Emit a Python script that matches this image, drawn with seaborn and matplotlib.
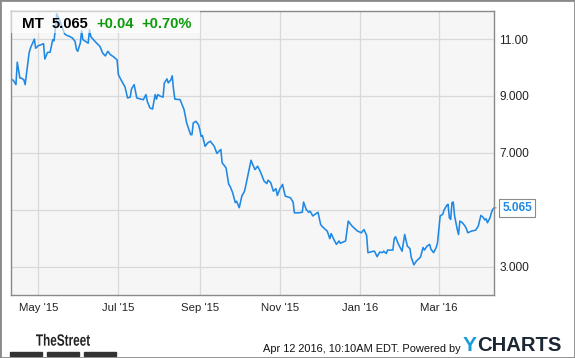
import matplotlib
matplotlib.use("Agg")
import matplotlib.pyplot as plt
import matplotlib.dates as mdates
from matplotlib.patches import Rectangle, PathPatch
from matplotlib.textpath import TextPath
from matplotlib.font_manager import FontProperties
from matplotlib.transforms import Affine2D
import pandas as pd
import seaborn as sns

# MT daily close (Apr 2015 - Apr 2016)
dates = [
    "2015-04-10", "2015-04-12", "2015-04-14", "2015-04-15", "2015-04-17", "2015-04-18", "2015-04-20",
    "2015-04-21", "2015-04-24", "2015-04-25", "2015-04-28", "2015-04-29", "2015-05-01", "2015-05-03",
    "2015-05-05", "2015-05-06", "2015-05-08", "2015-05-10", "2015-05-12", "2015-05-13", "2015-05-14",
    "2015-05-15", "2015-05-17", "2015-05-19", "2015-05-21", "2015-05-22", "2015-05-25", "2015-05-27",
    "2015-05-29", "2015-05-30", "2015-05-31", "2015-06-02", "2015-06-03", "2015-06-04", "2015-06-06",
    "2015-06-08", "2015-06-09", "2015-06-10", "2015-06-12", "2015-06-14", "2015-06-17", "2015-06-19",
    "2015-06-21", "2015-06-23", "2015-06-25", "2015-06-27", "2015-06-30", "2015-07-01", "2015-07-03",
    "2015-07-06", "2015-07-08", "2015-07-10", "2015-07-11", "2015-07-13", "2015-07-15", "2015-07-18",
    "2015-07-20", "2015-07-22", "2015-07-23", "2015-07-25", "2015-07-27", "2015-07-29", "2015-07-30",
    "2015-07-31", "2015-08-02", "2015-08-04", "2015-08-05", "2015-08-07", "2015-08-08", "2015-08-10",
    "2015-08-11", "2015-08-12", "2015-08-13", "2015-08-17", "2015-08-18", "2015-08-20", "2015-08-22",
    "2015-08-25", "2015-08-26", "2015-08-27", "2015-08-29", "2015-08-31", "2015-09-01", "2015-09-02",
    "2015-09-03", "2015-09-05", "2015-09-07", "2015-09-09", "2015-09-12", "2015-09-14", "2015-09-17",
    "2015-09-18", "2015-09-21", "2015-09-23", "2015-09-24", "2015-09-26", "2015-09-28", "2015-09-29",
    "2015-10-01", "2015-10-03", "2015-10-05", "2015-10-06", "2015-10-08", "2015-10-10", "2015-10-11",
    "2015-10-13", "2015-10-15", "2015-10-17", "2015-10-20", "2015-10-22", "2015-10-23", "2015-10-25",
    "2015-10-27", "2015-10-29", "2015-10-30", "2015-11-01", "2015-11-03", "2015-11-05", "2015-11-09",
    "2015-11-11", "2015-11-12", "2015-11-15", "2015-11-18", "2015-11-19", "2015-11-21", "2015-11-23",
    "2015-11-24", "2015-11-26", "2015-11-30", "2015-12-02", "2015-12-03", "2015-12-05", "2015-12-07",
    "2015-12-09", "2015-12-10", "2015-12-12", "2015-12-14", "2015-12-16", "2015-12-17", "2015-12-21",
    "2015-12-23", "2015-12-26", "2015-12-30", "2016-01-02", "2016-01-04", "2016-01-06", "2016-01-07",
    "2016-01-09", "2016-01-11", "2016-01-12", "2016-01-14", "2016-01-16", "2016-01-18", "2016-01-19",
    "2016-01-21", "2016-01-22", "2016-01-26", "2016-01-27", "2016-01-28", "2016-01-30", "2016-01-31",
    "2016-02-02", "2016-02-04", "2016-02-06", "2016-02-08", "2016-02-09", "2016-02-11", "2016-02-13",
    "2016-02-16", "2016-02-18", "2016-02-19", "2016-02-21", "2016-02-23", "2016-02-24", "2016-02-26",
    "2016-02-28", "2016-02-29", "2016-03-02", "2016-03-04", "2016-03-05", "2016-03-07", "2016-03-08",
    "2016-03-09", "2016-03-10", "2016-03-11", "2016-03-12", "2016-03-13", "2016-03-15", "2016-03-16",
    "2016-03-17", "2016-03-19", "2016-03-21", "2016-03-22", "2016-03-23", "2016-03-26", "2016-03-28",
    "2016-03-29", "2016-03-31", "2016-04-02", "2016-04-04", "2016-04-05", "2016-04-06", "2016-04-07",
    "2016-04-09", "2016-04-10", "2016-04-11", "2016-04-12",
]
prices = [
    9.60, 9.55, 9.40, 10.19, 9.63, 9.63, 9.57,
    9.40, 10.51, 10.68, 11.00, 10.68, 10.77, 10.80,
    10.84, 10.30, 10.53, 10.54, 10.98, 10.94, 11.35,
    11.89, 11.70, 11.44, 11.19, 11.15, 11.09, 11.04,
    10.92, 10.65, 10.57, 10.86, 11.30, 10.98, 10.92,
    10.86, 11.33, 11.09, 10.98, 10.88, 10.74, 10.51,
    10.41, 10.57, 10.45, 10.39, 10.27, 9.75, 9.57,
    9.32, 8.93, 8.96, 9.25, 9.40, 8.93, 8.89,
    8.87, 9.05, 8.81, 8.58, 8.54, 9.05, 8.89,
    9.05, 8.99, 8.96, 9.46, 9.60, 9.46, 9.57,
    9.71, 9.22, 8.89, 8.87, 8.75, 8.52, 8.05,
    7.64, 7.64, 8.05, 8.11, 7.99, 7.82, 7.58,
    7.61, 7.23, 7.35, 7.41, 7.23, 6.98, 7.12,
    6.65, 6.47, 5.89, 5.83, 5.60, 5.25, 5.30,
    5.07, 5.48, 5.65, 5.85, 6.30, 6.74, 6.62,
    6.41, 6.53, 6.35, 6.00, 5.92, 6.04, 5.95,
    5.65, 5.74, 5.50, 5.74, 5.89, 5.48, 5.42,
    5.27, 4.89, 4.89, 4.91, 5.27, 5.01, 4.91,
    4.95, 4.78, 4.91, 4.48, 4.42, 4.33, 4.25,
    3.98, 4.16, 3.96, 3.78, 3.90, 3.82, 3.90,
    4.60, 4.42, 4.25, 4.19, 4.30, 4.10, 3.49,
    3.51, 3.54, 3.54, 3.35, 3.51, 3.49, 3.54,
    3.46, 3.58, 3.58, 3.98, 4.05, 3.81, 3.72,
    3.54, 4.13, 3.72, 3.63, 3.32, 3.06, 3.20,
    3.33, 3.67, 3.58, 3.72, 3.78, 3.61, 3.49,
    3.67, 3.84, 4.78, 4.84, 4.99, 5.15, 5.19,
    4.72, 4.66, 5.25, 5.27, 4.78, 4.31, 4.13,
    4.60, 4.54, 4.42, 4.33, 4.19, 4.25, 4.27,
    4.28, 4.42, 4.80, 4.72, 4.64, 4.68, 4.54,
    4.72, 4.89, 5.01, 5.065,
]

ticker = "MT"
last_price = "5.065"
change = "+0.04"
change_pct = "+0.70%"
y_ticks = [3, 5, 7, 9, 11]
y_tick_labels = ["3.000", "", "7.000", "9.000", "11.00"]
footer = "Apr 12 2016, 10:10AM EDT. Powered by"

df = pd.DataFrame({"date": pd.to_datetime(dates), "price": prices})

sns.set_style("whitegrid", {
    "axes.facecolor": "#f6f6f6",
    "grid.color": "#d9d9d9",
    "axes.edgecolor": "#8a8a8a",
})
plt.rcParams["font.family"] = ["Liberation Sans", "DejaVu Sans"]

W, H = 575, 358
fig = plt.figure(figsize=(W / 100, H / 100), dpi=100)
ax = fig.add_axes([10.7 / W, 1 - 295 / H, (494 - 10.7) / W, (295 - 10.7) / H])

sns.lineplot(data=df, x="date", y="price", ax=ax, color="#1e88e5", linewidth=1.15)

ax.set_xlim(df["date"].iloc[0], df["date"].iloc[-1])
ax.set_ylim(2, 12)
ax.set_xlabel("")
ax.set_ylabel("")

ax.xaxis.set_major_locator(mdates.MonthLocator(bymonth=[1, 3, 5, 7, 9, 11]))
ax.xaxis.set_major_formatter(mdates.DateFormatter("%b '%y"))
ax.set_yticks(y_ticks)
ax.set_yticklabels(y_tick_labels)
ax.yaxis.tick_right()
ax.tick_params(axis="y", length=0, pad=3.8, labelsize=8.6, colors="#222222")
ax.tick_params(axis="x", length=0, pad=5.5, labelsize=8.2, colors="#222222")
ax.grid(True, color="#d9d9d9", linewidth=0.9)
for s in ax.spines.values():
    s.set_linewidth(1.0)
    s.set_color("#8a8a8a")

# translucent header strip
ax.add_patch(Rectangle((0, 1 - (33 - 10.7) / (295 - 10.7)), (200 - 10.7) / (494 - 10.7),
                       (33 - 10.7) / (295 - 10.7), transform=ax.transAxes,
                       facecolor="white", alpha=0.6, edgecolor="none", zorder=5))

hy = 1 - 23.5 / H
fig.text(21.7 / W, hy, ticker, fontsize=11, fontweight="bold", color="black", va="center", zorder=6)
fig.text(51.5 / W, hy, last_price, fontsize=10.5, fontweight="bold", color="black", va="center", zorder=6)
fig.text(96 / W, hy, change, fontsize=10.5, fontweight="bold", color="#0a9a0a", va="center", zorder=6)
fig.text(141 / W, hy, change_pct, fontsize=10.5, fontweight="bold", color="#0a9a0a", va="center", zorder=6)

# last value tag
ax.annotate(last_price, xy=(df["date"].iloc[-1], prices[-1]), xytext=(6, 0),
            textcoords="offset points", ha="left", va="center", fontsize=8.6,
            fontweight="bold", color="#1e88e5", annotation_clip=False,
            bbox=dict(boxstyle="square,pad=0.25", fc="white", ec="#8a8a8a", lw=0.8),
            arrowprops=dict(arrowstyle="-", color="#8a8a8a", lw=0.8))

# footer: condensed "TheStreet" logo text
tp = TextPath((0, 0), "TheStreet", size=16, prop=FontProperties(family="Liberation Sans", weight="bold"))
ext = tp.get_extents()
sx = 54 / ext.width
sy = 12 / ext.height
logo_tr = (Affine2D().translate(-ext.x0, -ext.y0).scale(sx, sy)
           .translate(36, H - 345.8).scale(1 / W, 1 / H) + fig.transFigure)
fig.patches.append(PathPatch(tp, transform=logo_tr, facecolor="#222222", edgecolor="none"))
for x0, x1 in [(10.3, 42.2), (47, 78.8), (83.6, 115.9)]:
    fig.patches.append(Rectangle((x0 / W, 1 - 355.7 / H), (x1 - x0) / W, 3.3 / H,
                                 transform=fig.transFigure, color="#333333"))
fig.text(263 / W, 1 - 349.5 / H, footer, fontsize=7.9, color="#111111", va="center")
fig.text(463 / W, 1 - 345.8 / H, "Y", fontsize=15, fontweight="bold", color="#1a9ad6", va="center")
fig.text(477.5 / W, 1 - 345.8 / H, "CHARTS", fontsize=14.6, fontweight="bold", color="#1b2733", va="center")

fig.patches.append(Rectangle((0, 0), 1, 1, transform=fig.transFigure, fill=False,
                             edgecolor="#8a8a8a", linewidth=2))

fig.savefig("out.png", dpi=100)
